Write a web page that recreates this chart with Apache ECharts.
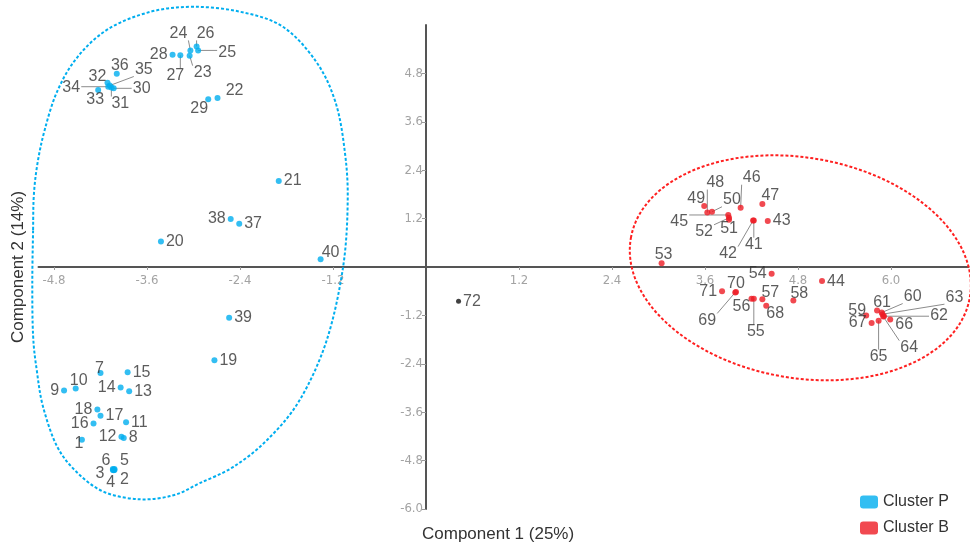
<!DOCTYPE html>
<html>
<head>
<meta charset="utf-8">
<script src="https://cdn.jsdelivr.net/npm/echarts@6/dist/echarts.min.js"></script>
<style>
  html, body { margin: 0; padding: 0; background: #fff; }
  #main { width: 970px; height: 547px; }
</style>
</head>
<body>
<div id="main"></div>
<script>
// component scores: [comp1, comp2, sample id]
const clusterP = [
  [-4.44, -4.28, '1'], [-4.02, -5.03, '2'], [-4.04, -5.03, '3'], [-4.03, -5.04, '4'],
  [-4.02, -5.01, '5'], [-4.04, -5.01, '6'], [-4.20, -2.63, '7'], [-3.90, -4.24, '8'],
  [-4.67, -3.06, '9'], [-4.52, -3.01, '10'], [-3.87, -3.85, '11'], [-3.93, -4.21, '12'],
  [-3.83, -3.08, '13'], [-3.94, -2.99, '14'], [-3.85, -2.61, '15'], [-4.29, -3.88, '16'],
  [-4.20, -3.69, '17'], [-4.24, -3.53, '18'], [-2.73, -2.31, '19'], [-3.42, 0.63, '20'],
  [-1.90, 2.13, '21'], [-2.69, 4.19, '22'], [-3.05, 5.24, '23'], [-3.04, 5.37, '24'],
  [-2.94, 5.37, '25'], [-2.96, 5.47, '26'], [-3.17, 5.25, '27'], [-3.27, 5.26, '28'],
  [-2.81, 4.16, '29'], [-4.03, 4.43, '30'], [-4.06, 4.45, '31'], [-4.11, 4.57, '32'],
  [-4.23, 4.39, '33'], [-4.10, 4.47, '34'], [-4.08, 4.50, '35'], [-3.99, 4.79, '36'],
  [-2.41, 1.07, '37'], [-2.52, 1.19, '38'], [-2.54, -1.26, '39'], [-1.36, 0.19, '40']
];
const clusterB = [
  [4.23, 1.15, '41'], [4.22, 1.15, '42'], [4.41, 1.14, '43'], [5.11, -0.35, '44'],
  [3.90, 1.29, '45'], [4.06, 1.47, '46'], [4.34, 1.56, '47'], [3.63, 1.35, '48'],
  [3.59, 1.51, '49'], [3.69, 1.37, '50'], [3.91, 1.17, '51'], [3.91, 1.22, '52'],
  [3.04, 0.09, '53'], [4.46, -0.17, '54'], [4.23, -0.79, '55'], [4.20, -0.79, '56'],
  [4.34, -0.80, '57'], [4.74, -0.83, '58'], [5.68, -1.20, '59'], [5.88, -1.13, '60'],
  [5.82, -1.08, '61'], [5.91, -1.22, '62'], [5.89, -1.17, '63'], [5.90, -1.23, '64'],
  [5.84, -1.33, '65'], [5.99, -1.30, '66'], [5.75, -1.39, '67'], [4.39, -0.96, '68'],
  [3.99, -0.63, '69'], [4.00, -0.62, '70'], [3.82, -0.60, '71']
];
const unassigned = [[0.42, -0.85, '72']];

const xTicks = [-4.8, -3.6, -2.4, -1.2, 1.2, 2.4, 3.6, 4.8, 6.0];
const yTicks = [-6.0, -4.8, -3.6, -2.4, -1.2, 1.2, 2.4, 3.6, 4.8];

// hand traced outline of cluster P, in data units
const outlineP = [
  [-5.07, 0.92], [-5.06, 1.80], [-5.01, 2.60], [-4.92, 3.40], [-4.76, 4.35],
  [-4.50, 5.20], [-4.10, 5.90], [-3.55, 6.33], [-3.00, 6.45], [-2.40, 6.33], [-1.85, 5.96],
  [-1.42, 5.10], [-1.17, 4.10], [-1.05, 2.90], [-1.01, 1.66], [-1.07, 0.00], [-1.28, -1.81],
  [-1.63, -3.30], [-2.05, -4.29], [-2.49, -4.96], [-2.92, -5.36], [-3.26, -5.66],
  [-3.69, -5.76], [-4.15, -5.58], [-4.50, -5.10], [-4.76, -4.45],
  [-4.94, -3.47], [-5.02, -2.60], [-5.07, -1.70], [-5.08, -0.40]
];
// cluster B outline: tilted ellipse (centre in data units, radii in axis units, tilt in degrees)
const ellipseB = { cx: 4.83, cy: -0.02, rx: 2.22, ry: 2.73, tilt: -10 };

// label placement: 'l' = left of dot, [dx, dy, line] = centre offset in px (+ leader line)
// anything not listed sits to the right of its dot
const labelPlace = {
  '28': 'l', '27': [-5, 20, 1], '24': [-12, -17, 1], '26': [9, -13, 1], '25': [29, 2, 1],
  '23': [13, 17, 1], '36': [3, -8], '32': [-10, -6], '35': [34, -16, 1], '34': [-37, 1, 1],
  '30': [28, 0, 1], '31': [9, 16, 1], '33': [-3, 10], '29': [-9, 9], '22': [17, -7],
  '38': 'l', '40': [10, -7],
  '7': [-1, -4], '10': [3, -8], '9': 'l', '14': 'l', '18': 'l', '16': 'l', '12': 'l',
  '1': [-3, 4], '6': [-7, -8], '5': [10, -8], '3': [-13, 4], '4': [-3, 12], '2': [10, 10],
  '49': [-8, -8], '48': [8, -30, 1], '50': [20, -12, 1], '46': [11, -30, 1], '47': [8, -8],
  '45': [-49, 7, 1], '52': [-25, 14, 1], '51': [0, 9], '41': [0, 24, 1], '42': [-25, 33, 1],
  '53': [2, -9], '54': 'l', '71': 'l', '70': [0, -8], '69': [-28, 28, 1], '56': [-10, 8],
  '55': [2, 33, 1], '57': [8, -7], '68': [9, 8], '58': [6, -7], '59': [-9, -5],
  '61': [5, -8], '60': [31, -16, 1], '63': [72, -17, 1], '62': [55, -1, 1], '66': [14, 5],
  '64': [26, 31, 1], '65': [0, 36, 1], '67': 'l'
};

const BLUE = '#00aeef';
const RED = '#ed1c24';
const LABEL_FONT = '"Liberation Sans", Arial, sans-serif';
const TICK_FONT = '"Liberation Sans Narrow", "DejaVu Sans Condensed", sans-serif';

function toItems(arr) {
  return arr.map(([x, y, id]) => {
    const p = labelPlace[id];
    const item = { value: [x, y], name: id };
    if (p === 'l') item.label = { position: 'left' };
    else if (Array.isArray(p)) item.label = { position: 'inside', offset: [p[0], p[1]] };
    return item;
  });
}

const leaders = [];
clusterP.concat(clusterB).forEach(([x, y, id]) => {
  const p = labelPlace[id];
  if (Array.isArray(p) && p[2]) leaders.push({ x, y, id, dx: p[0], dy: p[1] });
});

// closed catmull-rom curve through pixel points, as svg path data
function closedSpline(pts) {
  const n = pts.length;
  const f = (v) => v.toFixed(1);
  let d = 'M' + f(pts[0][0]) + ',' + f(pts[0][1]);
  for (let i = 0; i < n; i++) {
    const p0 = pts[(i - 1 + n) % n], p1 = pts[i], p2 = pts[(i + 1) % n], p3 = pts[(i + 2) % n];
    const c1 = [p1[0] + (p2[0] - p0[0]) / 6, p1[1] + (p2[1] - p0[1]) / 6];
    const c2 = [p2[0] - (p3[0] - p1[0]) / 6, p2[1] - (p3[1] - p1[1]) / 6];
    d += 'C' + f(c1[0]) + ',' + f(c1[1]) + ' ' + f(c2[0]) + ',' + f(c2[1]) + ' ' + f(p2[0]) + ',' + f(p2[1]);
  }
  return d + 'Z';
}

const dashStyle = (color) => ({ fill: null, stroke: color, lineWidth: 2, lineDash: [3, 2] });

const pointLabel = {
  show: true,
  formatter: '{b}',
  position: 'right',
  distance: 2,
  color: '#333',
  fontSize: 16,
  fontFamily: LABEL_FONT,
  textBorderWidth: 0,
};

const tickLabel = {
  formatter: (v) => v.toFixed(1),
  color: '#a3a3a3',
  fontSize: 13,
  fontFamily: TICK_FONT,
};

const chart = echarts.init(document.getElementById('main'));
chart.setOption({
  animation: false,
  backgroundColor: '#fff',
  grid: { left: 38.5, right: 1.5, top: 25, bottom: 38, containLabel: false, outerBoundsMode: 'none' },
  legend: {
    data: ['Cluster P', 'Cluster B'],
    orient: 'vertical',
    left: 855,
    top: 489,
    itemWidth: 18,
    itemHeight: 13,
    itemGap: 10,
    icon: 'roundRect',
    textStyle: { color: '#333', fontSize: 16, fontFamily: LABEL_FONT },
  },
  xAxis: {
    type: 'value',
    min: -5,
    max: 7,
    splitLine: { show: false },
    axisLine: { onZero: false, lineStyle: { color: '#555', width: 2 } },
    axisTick: { show: true, length: 3, customValues: xTicks, lineStyle: { color: '#999' } },
    axisLabel: Object.assign({ customValues: xTicks, margin: 7 }, tickLabel),
  },
  yAxis: {
    type: 'value',
    min: -6,
    max: 6,
    splitLine: { show: false },
    axisLine: { onZero: false, lineStyle: { color: '#555', width: 2 } },
    axisTick: { show: true, length: 4, customValues: yTicks, lineStyle: { color: '#999' } },
    axisLabel: Object.assign({ customValues: yTicks, margin: 3 }, tickLabel),
  },
  graphic: [
    {
      type: 'text',
      left: 422,
      top: 526,
      style: { text: 'Component 1 (25%)', fill: '#333', font: '17px ' + LABEL_FONT },
    },
    {
      type: 'text',
      x: 18,
      y: 267,
      rotation: Math.PI / 2,
      style: {
        text: 'Component 2 (14%)', fill: '#333', font: '17px ' + LABEL_FONT,
        align: 'center', verticalAlign: 'middle',
      },
    },
  ],
  series: [
    {
      type: 'custom',
      silent: true,
      z: 1,
      data: [[0, 0]],
      renderItem(params, api) {
        return {
          type: 'path',
          shape: { pathData: closedSpline(outlineP.map((p) => api.coord(p))) },
          style: dashStyle(BLUE),
        };
      },
    },
    {
      type: 'custom',
      silent: true,
      z: 1,
      data: [[ellipseB.cx, ellipseB.cy]],
      renderItem(params, api) {
        const c = api.coord([api.value(0), api.value(1)]);
        const rx = api.size([ellipseB.rx, 0])[0];
        const ry = api.size([0, ellipseB.ry])[1];
        return {
          type: 'ellipse',
          x: c[0],
          y: c[1],
          rotation: (ellipseB.tilt * Math.PI) / 180,
          shape: { cx: 0, cy: 0, rx, ry },
          style: dashStyle('#ff2020'),
        };
      },
    },
    {
      type: 'custom',
      silent: true,
      z: 2,
      data: leaders.map((d) => [d.x, d.y]),
      renderItem(params, api) {
        const d = leaders[params.dataIndex];
        const pt = api.coord([api.value(0), api.value(1)]);
        const cx = pt[0] + d.dx;
        const cy = pt[1] + d.dy;
        const hw = d.id.length * 4.5 + 1;
        const hh = 7;
        const qx = Math.min(Math.max(pt[0], cx - hw), cx + hw);
        const qy = Math.min(Math.max(pt[1], cy - hh), cy + hh);
        return {
          type: 'line',
          shape: { x1: pt[0], y1: pt[1], x2: qx, y2: qy },
          style: { stroke: '#8c8c8c', lineWidth: 1 },
        };
      },
    },
    {
      name: 'Cluster P',
      type: 'scatter',
      z: 3,
      symbolSize: 6,
      itemStyle: { color: BLUE },
      label: pointLabel,
      emphasis: { disabled: true },
      data: toItems(clusterP),
    },
    {
      name: 'Cluster B',
      type: 'scatter',
      z: 3,
      symbolSize: 6,
      itemStyle: { color: RED },
      label: pointLabel,
      emphasis: { disabled: true },
      data: toItems(clusterB),
    },
    {
      name: 'other',
      type: 'scatter',
      z: 3,
      symbolSize: 5,
      itemStyle: { color: '#111' },
      label: pointLabel,
      emphasis: { disabled: true },
      data: toItems(unassigned),
    },
  ],
});

// move both axes (line, ticks, labels) onto the origin
const zero = chart.convertToPixel({ gridIndex: 0 }, [0, 0]);
const gridLeft = chart.convertToPixel({ xAxisIndex: 0 }, -5);
const gridBottom = chart.convertToPixel({ yAxisIndex: 0 }, -6);
chart.setOption({
  xAxis: { offset: -(gridBottom - zero[1]) },
  yAxis: { offset: -(zero[0] - gridLeft) },
});
</script>
</body>
</html>
